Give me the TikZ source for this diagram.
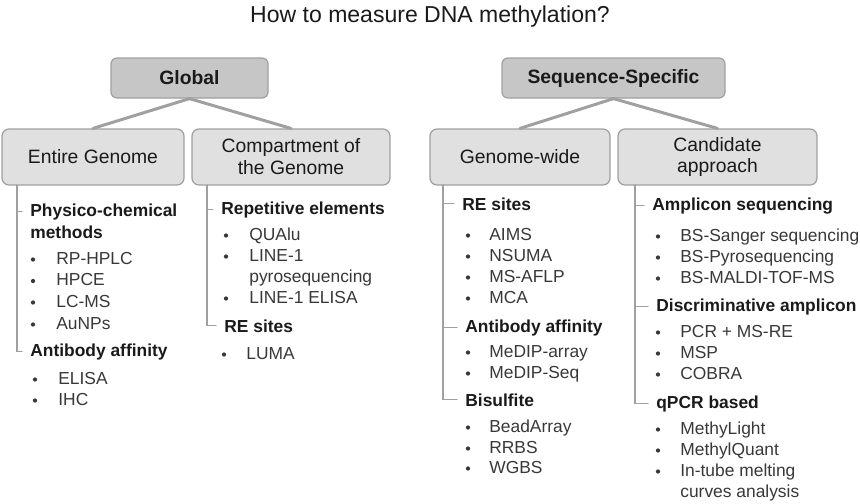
\documentclass[tikz,border=0pt]{standalone}
\usepackage{fontspec}
\setmainfont{Liberation Sans}
\usetikzlibrary{positioning,shapes.misc}
\definecolor{boxdark}{HTML}{C6C6C6}
\definecolor{boxlight}{HTML}{E0E0E0}
\definecolor{rim}{HTML}{A0A0A0}
\definecolor{headtxt}{HTML}{1A1A1A}
\definecolor{itemtxt}{HTML}{383838}

\begin{document}
\begin{tikzpicture}[
  font=\fontsize{9.9}{12}\selectfont, line cap=round,
  topbox/.style={rectangle, rounded corners=0.12cm, draw=rim, line width=0.7pt, fill=boxdark,
    minimum height=0.8cm, font=\fontsize{11}{12.5}\selectfont\bfseries, text=headtxt},
  subbox/.style={rectangle, rounded corners=0.14cm, draw=rim, line width=0.7pt, fill=boxlight,
    minimum height=1.12cm, align=center, font=\fontsize{11}{12.5}\selectfont, text=headtxt},
  link/.style={draw=rim, line width=1.7pt},
  bracket/.style={draw=rim, line width=0.6pt},
  head/.style={anchor=base west, inner sep=0pt, font=\fontsize{9.9}{12}\selectfont\bfseries, text=headtxt},
  item/.style={anchor=base west, inner sep=0pt, text=itemtxt},
  bul/.style={circle, fill=itemtxt, inner sep=0pt, minimum size=0.085cm}
]
\useasboundingbox (0,0) rectangle (17.2,-10.06);

\node[font=\fontsize{13.1}{15}\selectfont, text=headtxt, anchor=base] (title) at (8.6,-0.44) {How to measure DNA methylation?};

\node[topbox, minimum width=3.14cm] (glob) at (3.79,-1.56) {Global};
  \node[subbox, minimum width=3.64cm] (ent) at (1.86,-3.14) {Entire Genome};
  \node[subbox, minimum width=3.96cm] (comp) at (5.82,-3.14) {Compartment of\\the Genome};
\node[topbox, minimum width=4.46cm] (seq) at (12.27,-1.56) {Sequence-Specific};
  \node[subbox, minimum width=3.60cm] (gw) at (10.40,-3.14) {Genome-wide};
  \node[subbox, minimum width=3.98cm] (cand) at (14.35,-3.14) {Candidate\\approach};

\draw[link] (glob.south) -- (ent.north);
\draw[link] (glob.south) -- (comp.north);
\draw[link] (seq.south) -- (gw.north);
\draw[link] (seq.south) -- (cand.north);

% Entire Genome
\node[head] (ent-h1) at (0.60,-4.32) {Physico-chemical};
\node[head] (ent-h1x) at (0.60,-4.76) {methods};
  \node[bul] (ent-b1) at (0.66,-5.19) {};  \node[item] (ent-i1) at (1.12,-5.28) {RP-HPLC};
  \node[bul] (ent-b2) at (0.66,-5.62) {};  \node[item] (ent-i2) at (1.12,-5.71) {HPCE};
  \node[bul] (ent-b3) at (0.66,-6.05) {};  \node[item] (ent-i3) at (1.12,-6.14) {LC-MS};
  \node[bul] (ent-b4) at (0.66,-6.49) {};  \node[item] (ent-i4) at (1.12,-6.58) {AuNPs};
\node[head] (ent-h2) at (0.60,-7.12) {Antibody affinity};
  \node[bul] (ent-b5) at (0.70,-7.59) {};  \node[item] (ent-i5) at (1.16,-7.68) {ELISA};
  \node[bul] (ent-b6) at (0.70,-8.01) {};  \node[item] (ent-i6) at (1.16,-8.10) {IHC};

\coordinate (ent-br) at (0.34,-3.70);
\draw[bracket] (ent-br) |- ([xshift=-0.16cm]ent-h2.west);
\draw[bracket] (ent-br |- ent-h1.west) -- ([xshift=-0.16cm]ent-h1.west);

% Compartment of the Genome
\node[head] (comp-h1) at (4.42,-4.28) {Repetitive elements};
  \node[bul] (comp-b1) at (4.52,-4.71) {};  \node[item] (comp-i1) at (4.98,-4.80) {QUAlu};
  \node[bul] (comp-b2) at (4.52,-5.13) {};  \node[item] (comp-i2) at (4.98,-5.22) {LINE-1};
                                            \node[item] (comp-i2x) at (4.98,-5.64) {pyrosequencing};
  \node[bul] (comp-b3) at (4.52,-5.97) {};  \node[item] (comp-i3) at (4.98,-6.06) {LINE-1 ELISA};
\node[head] (comp-h2) at (4.48,-6.64) {RE sites};
  \node[bul] (comp-b4) at (4.48,-7.09) {};  \node[item] (comp-i4) at (4.92,-7.18) {LUMA};

\coordinate (comp-br) at (4.14,-3.70);
\draw[bracket] (comp-br) |- ([xshift=-0.16cm]comp-h2.west);
\draw[bracket] (comp-br |- comp-h1.west) -- ([xshift=-0.16cm]comp-h1.west);

% Genome-wide
\node[head] (gw-h1) at (9.24,-4.20) {RE sites};
  \node[bul] (gw-b1) at (9.36,-4.71) {};  \node[item] (gw-i1) at (9.78,-4.80) {AIMS};
  \node[bul] (gw-b2) at (9.36,-5.13) {};  \node[item] (gw-i2) at (9.78,-5.22) {NSUMA};
  \node[bul] (gw-b3) at (9.36,-5.55) {};  \node[item] (gw-i3) at (9.78,-5.64) {MS-AFLP};
  \node[bul] (gw-b4) at (9.36,-5.97) {};  \node[item] (gw-i4) at (9.78,-6.06) {MCA};
\node[head] (gw-h2) at (9.30,-6.64) {Antibody affinity};
  \node[bul] (gw-b5) at (9.36,-7.05) {};  \node[item] (gw-i5) at (9.78,-7.14) {MeDIP-array};
  \node[bul] (gw-b6) at (9.36,-7.47) {};  \node[item] (gw-i6) at (9.78,-7.56) {MeDIP-Seq};
\node[head] (gw-h3) at (9.30,-8.12) {Bisulfite};
  \node[bul] (gw-b7) at (9.36,-8.55) {};  \node[item] (gw-i7) at (9.78,-8.64) {BeadArray};
  \node[bul] (gw-b8) at (9.36,-8.97) {};  \node[item] (gw-i8) at (9.78,-9.06) {RRBS};
  \node[bul] (gw-b9) at (9.36,-9.37) {};  \node[item] (gw-i9) at (9.78,-9.46) {WGBS};

\coordinate (gw-br) at (8.86,-3.70);
\draw[bracket] (gw-br) |- ([xshift=-0.16cm]gw-h3.west);
\draw[bracket] (gw-br |- gw-h1.west) -- ([xshift=-0.16cm]gw-h1.west);
\draw[bracket] (gw-br |- gw-h2.west) -- ([xshift=-0.16cm]gw-h2.west);

% Candidate approach
\node[head] (cand-h1) at (13.04,-4.20) {Amplicon sequencing};
  \node[bul] (cand-b1) at (13.16,-4.73) {};  \node[item] (cand-i1) at (13.60,-4.82) {BS-Sanger sequencing};
  \node[bul] (cand-b2) at (13.16,-5.15) {};  \node[item] (cand-i2) at (13.60,-5.24) {BS-Pyrosequencing};
  \node[bul] (cand-b3) at (13.16,-5.57) {};  \node[item] (cand-i3) at (13.60,-5.66) {BS-MALDI-TOF-MS};
\node[head] (cand-h2) at (13.12,-6.22) {Discriminative amplicon};
  \node[bul] (cand-b4) at (13.16,-6.65) {};  \node[item] (cand-i4) at (13.60,-6.74) {PCR + MS-RE};
  \node[bul] (cand-b5) at (13.16,-7.07) {};  \node[item] (cand-i5) at (13.60,-7.16) {MSP};
  \node[bul] (cand-b6) at (13.16,-7.49) {};  \node[item] (cand-i6) at (13.60,-7.58) {COBRA};
\node[head] (cand-h3) at (13.12,-8.16) {qPCR based};
  \node[bul] (cand-b7) at (13.16,-8.59) {};  \node[item] (cand-i7) at (13.60,-8.68) {MethyLight};
  \node[bul] (cand-b8) at (13.16,-9.01) {};  \node[item] (cand-i8) at (13.60,-9.10) {MethylQuant};
  \node[bul] (cand-b9) at (13.16,-9.43) {};  \node[item] (cand-i9) at (13.60,-9.52) {In-tube melting};
                                             \node[item] (cand-i9x) at (13.60,-9.94) {curves analysis};

\coordinate (cand-br) at (12.70,-3.70);
\draw[bracket] (cand-br) |- ([xshift=-0.16cm]cand-h3.west);
\draw[bracket] (cand-br |- cand-h1.west) -- ([xshift=-0.16cm]cand-h1.west);
\draw[bracket] (cand-br |- cand-h2.west) -- ([xshift=-0.16cm]cand-h2.west);
\end{tikzpicture}
\end{document}
